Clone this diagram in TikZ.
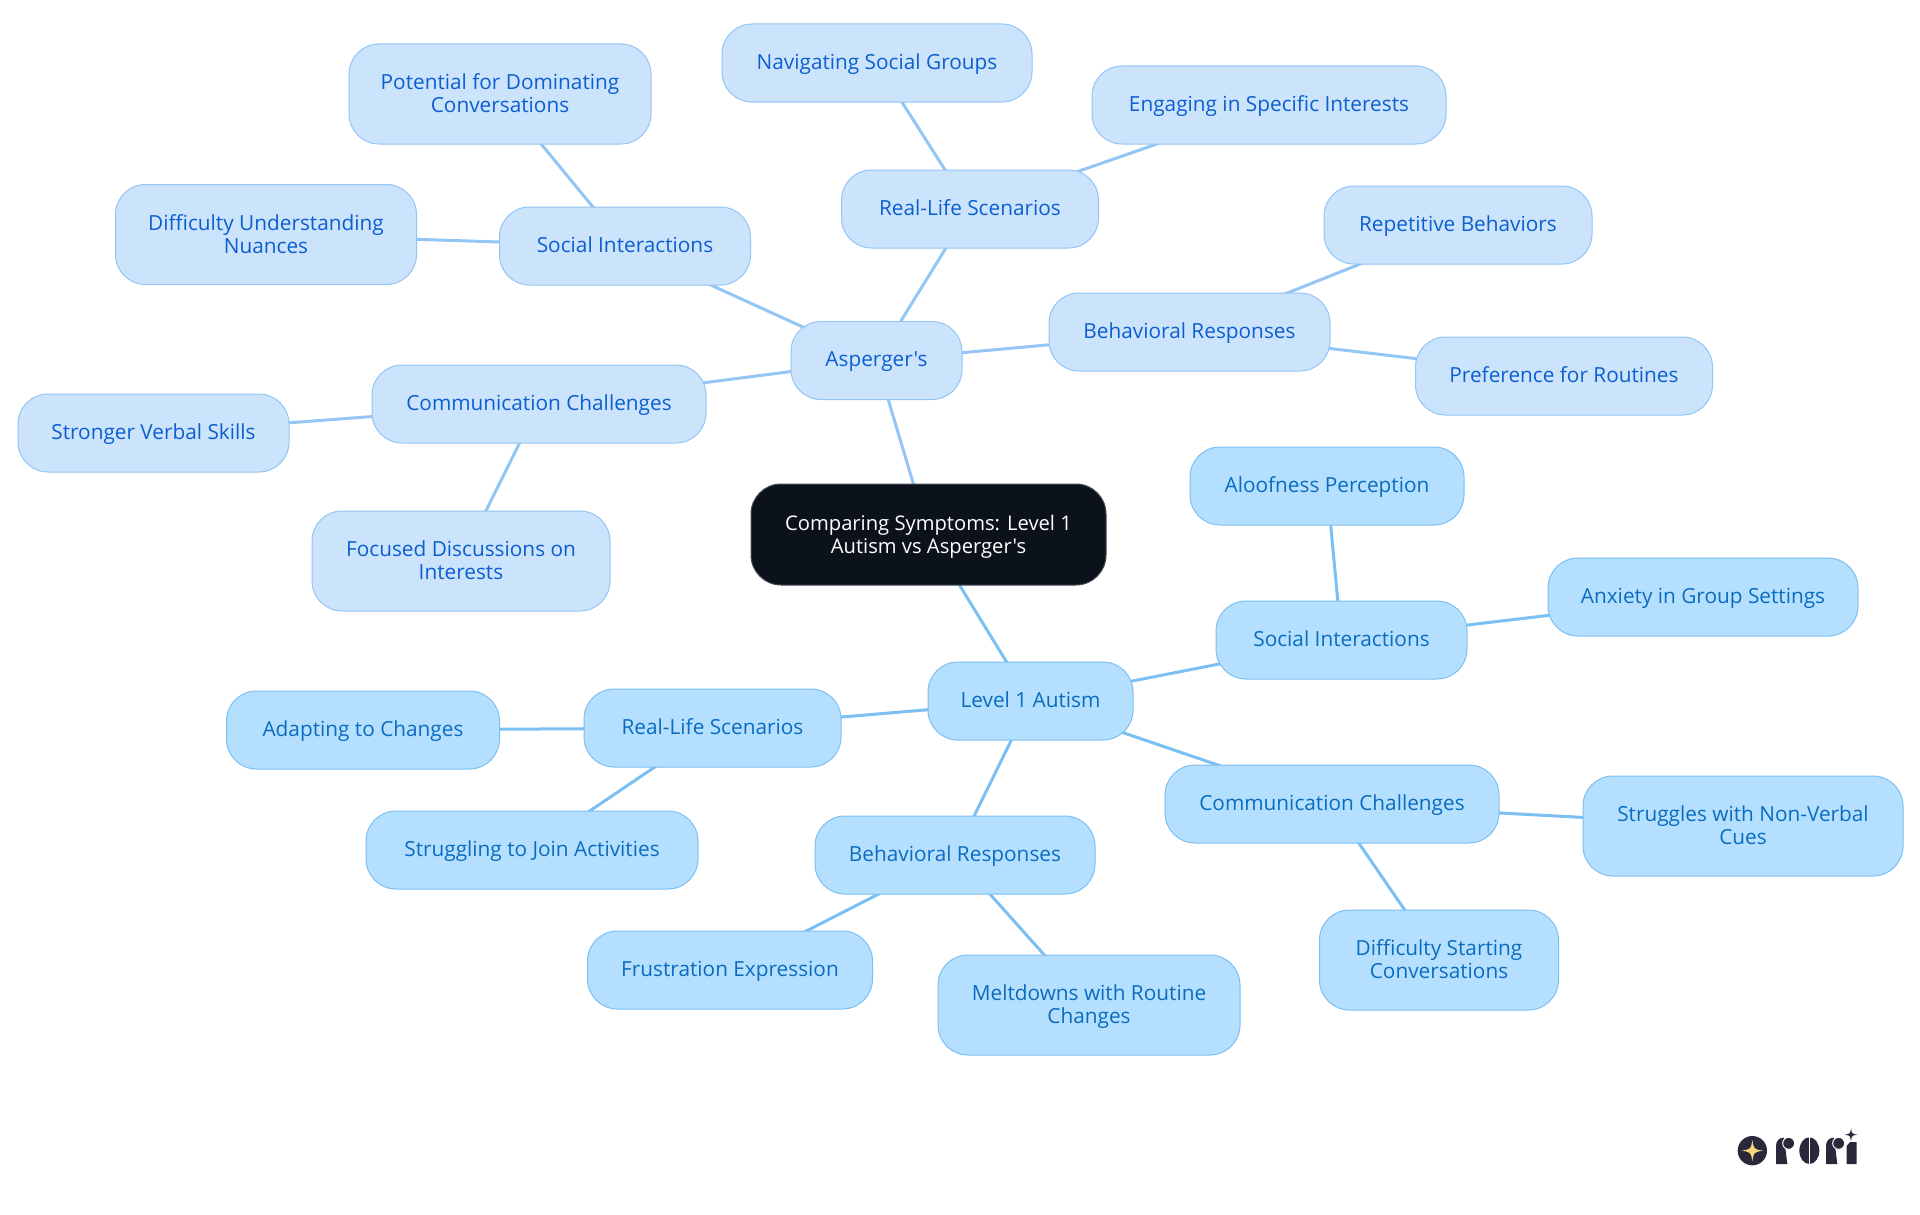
\documentclass[tikz,border=0pt]{standalone}
\usepackage{fontspec}
\setmainfont[Ligatures=TeXOff]{Open Sans}
\usetikzlibrary{backgrounds}
\definecolor{rootfill}{RGB}{12,18,27}
\definecolor{rootline}{RGB}{70,75,84}
\definecolor{aspfill}{RGB}{204,227,252}
\definecolor{aspline}{RGB}{147,197,245}
\definecolor{asptext}{RGB}{11,95,207}
\definecolor{lvlfill}{RGB}{181,223,255}
\definecolor{lvlline}{RGB}{124,191,242}
\definecolor{lvltext}{RGB}{10,108,191}
\definecolor{logodark}{RGB}{42,40,58}
\definecolor{logogold}{RGB}{247,213,127}
\newcommand{\boxstrut}{\rule[-5.25pt]{0pt}{23pt}}
\tikzset{
  mapbox/.style={rectangle, rounded corners=30pt, minimum height=78pt, inner sep=0pt, align=center, line width=1pt, font=\fontsize{20.8}{23}\selectfont, execute at begin node=\boxstrut, execute at end node=\boxstrut},
  rootbox/.style={mapbox, fill=rootfill, draw=rootline, text=white, font=\fontsize{20.2}{23}\selectfont},
  aspbox/.style={mapbox, fill=aspfill, draw=aspline, text=asptext},
  lvlbox/.style={mapbox, fill=lvlfill, draw=lvlline, text=lvltext},
  tallbox/.style={minimum height=100pt, execute at begin node=\rule{0pt}{43pt}},
  asplink/.style={draw=aspline, line width=3pt},
  lvllink/.style={draw=lvlline, line width=3pt}
}
\newcommand{\logostar}[4]{\fill[#4] (#1,#2-#3) .. controls (#1+0.14*#3,#2-0.14*#3) .. (#1+#3,#2) .. controls (#1+0.14*#3,#2+0.14*#3) .. (#1,#2+#3) .. controls (#1-0.14*#3,#2+0.14*#3) .. (#1-#3,#2) .. controls (#1-0.14*#3,#2-0.14*#3) .. cycle;}
\begin{document}
\begin{tikzpicture}[x=1pt,y=-1pt]
\useasboundingbox (0,0) rectangle (1920,1215);
\node[rootbox, tallbox, minimum width=355pt, minimum height=101pt] (root) at (928.5,534.5) {Comparing Symptoms: Level 1\\Autism vs Asperger's};

% Asperger's side
\node[aspbox, minimum width=171pt] (asp) at (876.5,360.5) {Asperger's};
\node[aspbox, minimum width=251pt] (aspsocial) at (625,246) {Social Interactions};
\node[aspbox, tallbox, minimum width=302pt] (aspdominate) at (500,94) {Potential for Dominating\\Conversations};
\node[aspbox, tallbox, minimum width=301pt] (aspnuance) at (266,234.5) {Difficulty Understanding\\Nuances};
\node[aspbox, minimum width=257pt] (aspreal) at (970,209) {Real-Life Scenarios};
\node[aspbox, minimum width=310pt] (aspgroups) at (877,63) {Navigating Social Groups};
\node[aspbox, minimum width=354pt] (aspinterest) at (1269,105) {Engaging in Specific Interests};
\node[aspbox, minimum width=281pt] (aspbehave) at (1189.5,332) {Behavioral Responses};
\node[aspbox, minimum width=268pt] (asprepeat) at (1458,225) {Repetitive Behaviors};
\node[aspbox, minimum width=297pt] (asproutine) at (1564,376) {Preference for Routines};
\node[aspbox, minimum width=334pt] (aspcomm) at (539,404) {Communication Challenges};
\node[aspbox, minimum width=271pt] (aspverbal) at (153.5,433) {Stronger Verbal Skills};
\node[aspbox, tallbox, minimum width=298pt] (aspfocus) at (461,561) {Focused Discussions on\\Interests};

% Level 1 side
\node[lvlbox, minimum width=205pt] (lvl) at (1030.5,701) {Level 1 Autism};
\node[lvlbox, minimum width=251pt] (lvlsocial) at (1341.5,640) {Social Interactions};
\node[lvlbox, minimum width=274pt] (lvlaloof) at (1327,486) {Aloofness Perception};
\node[lvlbox, minimum width=310pt] (lvlanxiety) at (1703,597) {Anxiety in Group Settings};
\node[lvlbox, minimum width=334pt] (lvlcomm) at (1332,804) {Communication Challenges};
\node[lvlbox, tallbox, minimum width=320pt] (lvlcues) at (1743,826) {Struggles with Non-Verbal\\Cues};
\node[lvlbox, tallbox, minimum width=239pt] (lvlstart) at (1439,960) {Difficulty Starting\\Conversations};
\node[lvlbox, minimum width=280pt] (lvlbehave) at (955,855) {Behavioral Responses};
\node[lvlbox, minimum width=285pt] (lvlfrust) at (730,970) {Frustration Expression};
\node[lvlbox, tallbox, minimum width=302pt] (lvlmelt) at (1089,1005) {Meltdowns with Routine\\Changes};
\node[lvlbox, minimum width=257pt] (lvlreal) at (712.5,728) {Real-Life Scenarios};
\node[lvlbox, minimum width=273pt] (lvladapt) at (363,730) {Adapting to Changes};
\node[lvlbox, minimum width=332pt] (lvljoin) at (532,850) {Struggling to Join Activities};

\begin{scope}[on background layer]
\foreach \a/\b in {root/asp,asp/aspsocial,aspsocial/aspdominate,aspsocial/aspnuance,asp/aspreal,aspreal/aspgroups,aspreal/aspinterest,asp/aspbehave,aspbehave/asprepeat,aspbehave/asproutine,asp/aspcomm,aspcomm/aspverbal,aspcomm/aspfocus}
  \draw[asplink] (\a.center) -- (\b.center);
\foreach \a/\b in {root/lvl,lvl/lvlsocial,lvlsocial/lvlaloof,lvlsocial/lvlanxiety,lvl/lvlcomm,lvlcomm/lvlcues,lvlcomm/lvlstart,lvl/lvlbehave,lvlbehave/lvlfrust,lvlbehave/lvlmelt,lvl/lvlreal,lvlreal/lvladapt,lvlreal/lvljoin}
  \draw[lvllink] (\a.center) -- (\b.center);
\end{scope}

% logo
\begin{scope}[shift={(1700,1100)},scale=1/3]
\fill[logodark] (157,152) circle (44);
\logostar{157}{152}{32}{logogold}
\fill[logodark] (228,192) -- (228,138) .. controls (228,122) and (238,113) .. (252,113) -- (262,192) -- cycle;
\fill[logodark, draw=white, line width=1pt] (266,130) circle (18);
\fill[logodark] (328,152) ellipse (30 and 40);
\draw[white, line width=1.5pt] (329,112) -- (329,192);
\fill[logodark] (378,192) -- (378,138) .. controls (378,122) and (388,113) .. (402,113) -- (412,192) -- cycle;
\fill[logodark, draw=white, line width=1pt] (416,130) circle (18);
\fill[logodark] (440,192) -- (440,138) -- (450,126) -- (470,126) -- (470,192) -- cycle;
\logostar{453}{104}{19}{logodark}
\end{scope}
\end{tikzpicture}
\end{document}
